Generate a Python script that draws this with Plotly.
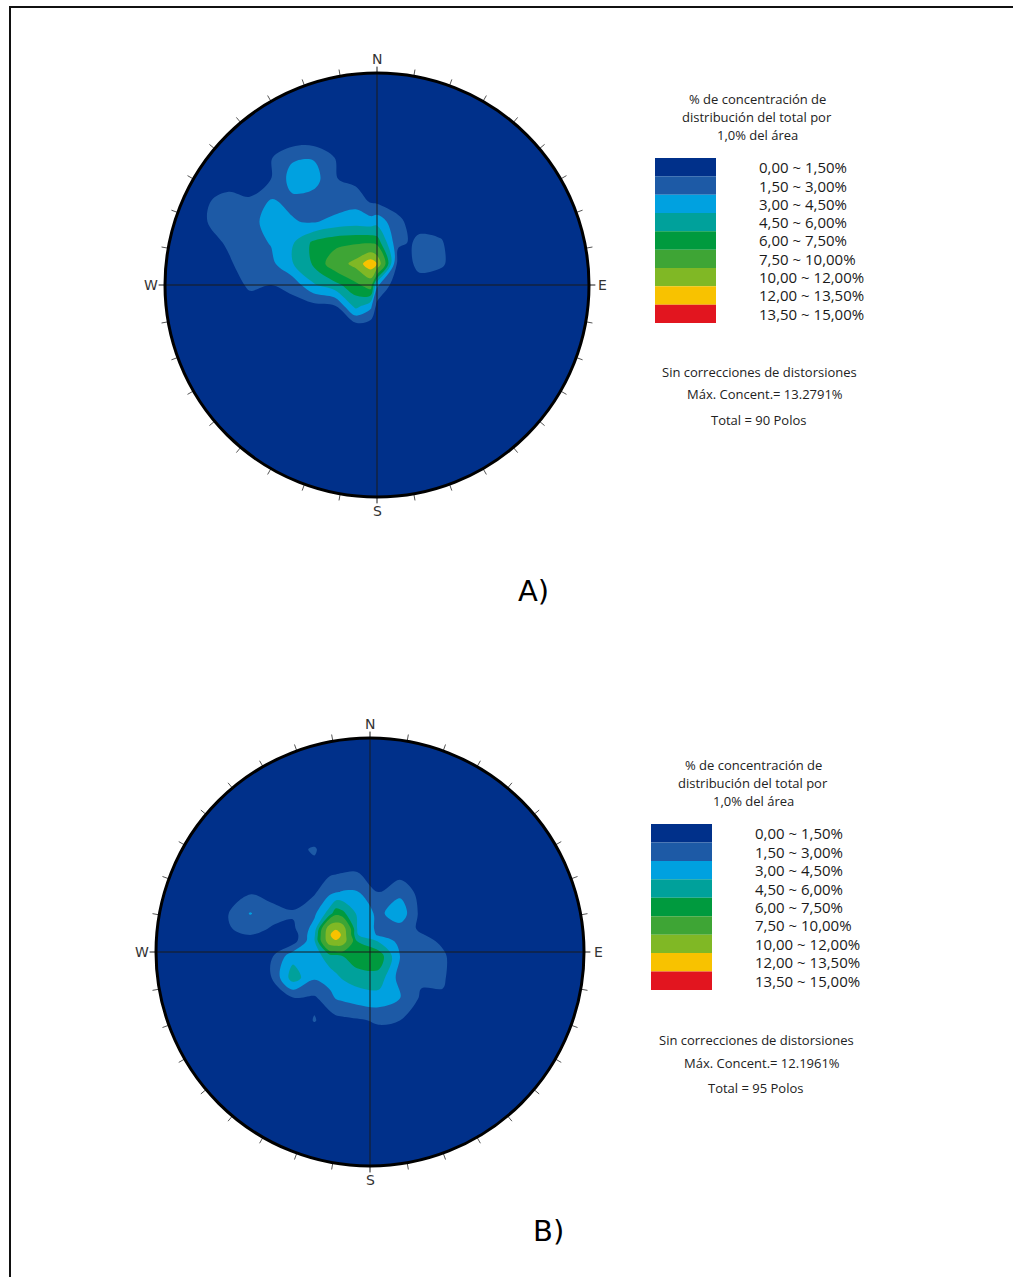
import numpy as np
import plotly.graph_objects as go

W, H = 1013, 1277

# ---------------- shared legend data ----------------
levels = [1.5, 3.0, 4.5, 6.0, 7.5, 10.0, 12.0, 13.5]
band_colors = ['#00308a', '#1d5aa6', '#00a1e0', '#00a19b', '#009a3e',
               '#3ea535', '#80b825', '#f8c200', '#e2151f']
band_labels = ['0,00 ~ 1,50%', '1,50 ~ 3,00%', '3,00 ~ 4,50%', '4,50 ~ 6,00%',
               '6,00 ~ 7,50%', '7,50 ~ 10,00%', '10,00 ~ 12,00%',
               '12,00 ~ 13,50%', '13,50 ~ 15,00%']
legend_title = ['% de concentración de', 'distribución del total por', '1,0% del área']
note_text = 'Sin correcciones de distorsiones'
cardinals = ['N', 'E', 'S', 'W']

# ---------------- panel A: density grid (% per 1% area) ----------------
a_u = [-1.0, -0.9, -0.8, -0.7, -0.6, -0.5, -0.4, -0.3, -0.2, -0.1, -0.03, 0.0, 0.1, 0.16, 0.2, 0.3, 0.4, 0.5]
a_v = [-0.3, -0.2, -0.1, 0.0, 0.1, 0.2, 0.3, 0.4, 0.5, 0.6, 0.7, 0.8]
a_z = [
    [0, 0, 0, 0, 0, 0, 0, 0, 0, 0.1, 0.1, 0.1, 0, 0, 0, 0, 0, 0],
    [0, 0, 0, 0, 0.1, 0.2, 0.2, 0.3, 0.4, 0.5, 0.5, 0.5, 0.2, 0.1, 0, 0, 0, 0],
    [0, 0, 0.1, 0.3, 0.7, 0.6, 0.9, 1.0, 1.3, 5.0, 3.4, 1.0, 0.3, 0.2, 0.1, 0, 0, 0],
    [0, 0.1, 0.2, 0.6, 1.8, 1.5, 2.0, 4.3, 5.5, 7.0, 8.5, 3.3, 0.3, 0.5, 0.8, 0.4, 0.1, 0],
    [0, 0.2, 0.5, 1.3, 2.2, 2.6, 4.4, 6.2, 8.5, 10.8, 13.28, 12.0, 0.8, 1.3, 2.0, 1.8, 0.4, 0],
    [0, 0.3, 1.0, 1.7, 2.4, 3.1, 4.3, 6.3, 7.0, 7.2, 7.3, 6.9, 1.75, 1.4, 1.9, 1.7, 0.2, 0],
    [0, 0.4, 1.5, 2.3, 2.5, 3.6, 3.1, 2.8, 3.5, 3.8, 3.6, 3.9, 1.9, 1.0, 0.9, 0.7, 0.1, 0],
    [0, 0.2, 1.4, 1.9, 1.6, 3.1, 2.7, 2.3, 1.9, 2.4, 1.2, 1.0, 0.6, 0.5, 0.4, 0.2, 0, 0],
    [0, 0, 0.4, 0.9, 1.0, 1.5, 3.6, 3.7, 1.6, 1.0, 0.5, 0.4, 0.1, 0.1, 0, 0, 0, 0],
    [0, 0, 0.1, 0.3, 0.6, 1.4, 2.8, 2.9, 1.5, 0.6, 0.3, 0.2, 0, 0, 0, 0, 0, 0],
    [0, 0, 0, 0, 0, 0.2, 0.3, 0.4, 0.2, 0, 0, 0, 0, 0, 0, 0, 0, 0],
    [0, 0, 0, 0, 0, 0, 0, 0, 0, 0, 0, 0, 0, 0, 0, 0, 0, 0],
]
a_max = '13.2791%'
a_total = 90

# ---------------- panel B: density grid (% per 1% area) ----------------
b_u = [-0.86, -0.76, -0.66, -0.56, -0.46, -0.36, -0.26, -0.19, -0.16, -0.13, -0.06, 0.04, 0.14, 0.24, 0.34, 0.44, 0.54]
b_v = [-0.52, -0.42, -0.32, -0.22, -0.12, -0.02, 0.05, 0.08, 0.11, 0.18, 0.28, 0.38, 0.48, 0.58]
b_z = [
    [0, 0, 0, 0, 0, 0, 0, 0, 0, 0, 0, 0, 0, 0, 0, 0, 0],
    [0, 0, 0, 0, 0, 0, 0.2, 0.2, 0.3, 0.4, 0.5, 0.7, 0.6, 0.2, 0, 0, 0],
    [0, 0, 0, 0, 0.2, 0.3, 1.6, 0.8, 1.0, 1.1, 1.3, 1.7, 1.5, 0.6, 0.3, 0, 0],
    [0, 0, 0, 0.2, 0.6, 1.2, 1.2, 2.3, 3.0, 3.2, 3.6, 3.8, 3.1, 1.2, 1.3, 0.2, 0],
    [0, 0, 0.2, 0.5, 1.5, 5.3, 3.2, 3.8, 4.2, 4.6, 5.2, 5.4, 2.4, 1.8, 1.7, 0.3, 0],
    [0, 0, 0.3, 0.6, 1.3, 4.0, 3.8, 5.2, 5.5, 5.9, 7.0, 7.0, 3.0, 2.0, 1.7, 0.6, 0.2],
    [0, 0.1, 0.6, 0.9, 0.9, 0.8, 4.3, 11.5, 11.95, 11.5, 6.0, 4.4, 2.5, 1.9, 1.3, 0.3, 0],
    [0, 0.2, 1.2, 1.5, 1.1, 0.6, 4.2, 11.95, 12.2, 11.95, 4.6, 2.8, 2.5, 1.6, 1.0, 0.2, 0],
    [0, 0.2, 1.4, 2.0, 1.4, 1.2, 3.6, 11.5, 11.95, 11.5, 4.5, 2.6, 2.4, 1.2, 0.5, 0.1, 0],
    [0, 0.3, 1.5, 3.1, 2.0, 1.7, 2.7, 5.2, 7.0, 6.5, 4.3, 2.6, 4.0, 1.0, 0.3, 0, 0],
    [0, 0, 1.0, 1.3, 1.0, 0.5, 1.3, 2.6, 2.9, 3.1, 3.1, 1.5, 2.6, 0.9, 0.3, 0, 0],
    [0, 0, 0.2, 0.3, 0.3, 0.9, 1.0, 1.1, 1.2, 1.3, 1.4, 0.8, 0.7, 0.3, 0, 0, 0],
    [0, 0, 0, 0, 0.1, 1.0, 1.7, 0.5, 0.4, 0.4, 0.3, 0.1, 0, 0, 0, 0, 0],
    [0, 0, 0, 0, 0, 0, 0, 0, 0, 0, 0, 0, 0, 0, 0, 0, 0],
]
b_max = '12.1961%'
b_total = 95


def pxx(x):
    return x / W


def pyy(y):
    return 1 - y / H


panels = [
    dict(tag='A)', ax='', cx=377, cy=285, r=212, u=a_u, v=a_v, z=a_z, maxv=a_max, total=a_total,
         sw=(655, 716), top=158, bot=323, lx=757, head=(757, [99, 117, 135]),
         notes=([759, 765, 759], [372, 394, 420]), lab=(533, 591)),
    dict(tag='B)', ax='2', cx=370, cy=952, r=214, u=b_u, v=b_v, z=b_z, maxv=b_max, total=b_total,
         sw=(651, 712), top=824, bot=990, lx=753, head=(753, [765, 783, 801]),
         notes=([756, 762, 756], [1040, 1063, 1088]), lab=(548, 1231)),
]

fig = go.Figure()
shapes = []
annotations = []
EXT = 1.25

for p in panels:
    xr = 'x' + p['ax']
    yr = 'y' + p['ax']
    cx, cy, r = p['cx'], p['cy'], p['r']
    fig.layout['xaxis' + p['ax']] = dict(
        domain=[pxx(cx - EXT * r), pxx(cx + EXT * r)], range=[-EXT, EXT],
        visible=False, fixedrange=True, anchor=yr)
    fig.layout['yaxis' + p['ax']] = dict(
        domain=[pyy(cy + EXT * r), pyy(cy - EXT * r)], range=[-EXT, EXT],
        visible=False, fixedrange=True, anchor=xr)

    # background disc (lowest band)
    shapes.append(dict(type='circle', xref=xr, yref=yr, x0=-1, y0=-1, x1=1, y1=1,
                       fillcolor=band_colors[0], line=dict(width=0), layer='below'))

    # filled density bands: constraint '<' keeps z<L clear and shades z>=L
    zmax = float(np.max(p['z']))
    for i, L in enumerate(levels):
        if L >= zmax:
            continue
        fig.add_trace(go.Contour(
            x=p['u'], y=p['v'], z=p['z'], xaxis=xr, yaxis=yr,
            contours=dict(type='constraint', operation='<', value=L),
            fillcolor=band_colors[i + 1], line=dict(width=0, smoothing=1.0),
            showscale=False, hoverinfo='skip', showlegend=False))

    # ticks every 10 degrees
    tx, ty = [], []
    for ang in range(10, 360, 10):
        if ang % 90 == 0:
            continue
        t = np.radians(ang)
        tx += [np.sin(t) * 1.0, np.sin(t) * 1.032, None]
        ty += [np.cos(t) * 1.0, np.cos(t) * 1.032, None]
    fig.add_trace(go.Scatter(x=tx, y=ty, mode='lines', xaxis=xr, yaxis=yr,
                             line=dict(color='#555555', width=1), hoverinfo='skip',
                             showlegend=False))

    # cross lines
    shapes.append(dict(type='line', xref=xr, yref=yr, x0=-1.03, y0=0, x1=1.03, y1=0,
                       line=dict(color='#1a1a1a', width=1), layer='above'))
    shapes.append(dict(type='line', xref=xr, yref=yr, x0=0, y0=-1.03, x1=0, y1=1.03,
                       line=dict(color='#1a1a1a', width=1), layer='above'))
    # outline
    shapes.append(dict(type='circle', xref=xr, yref=yr, x0=-1, y0=-1, x1=1, y1=1,
                       line=dict(color='#000000', width=3), layer='above'))

    # cardinal labels
    for lab, ang in zip(cardinals, [0, 90, 180, 270]):
        t = np.radians(ang)
        annotations.append(dict(x=np.sin(t) * 1.066, y=np.cos(t) * 1.066, xref=xr, yref=yr,
                                text=lab, showarrow=False, xanchor='center', yanchor='middle',
                                font=dict(family='DejaVu Sans', size=14, color='#333333')))

    # legend header
    hx, hys = p['head']
    for txt, yy in zip(legend_title, hys):
        annotations.append(dict(x=pxx(hx), y=pyy(yy), xref='paper', yref='paper', text=txt,
                                showarrow=False, xanchor='center', yanchor='middle',
                                font=dict(family='Open Sans', size=13, color='#222222')))
    # swatches and labels
    n = len(band_colors)
    rh = (p['bot'] - p['top']) / n
    for i in range(n):
        y0 = p['top'] + i * rh
        shapes.append(dict(type='rect', xref='paper', yref='paper',
                           x0=pxx(p['sw'][0]), x1=pxx(p['sw'][1]),
                           y0=pyy(y0 + rh), y1=pyy(y0),
                           fillcolor=band_colors[i], line=dict(width=0), layer='above'))
        annotations.append(dict(x=pxx(p['lx']), y=pyy(y0 + rh / 2), xref='paper', yref='paper',
                                text=band_labels[i], showarrow=False, xanchor='left',
                                yanchor='middle',
                                font=dict(family='Open Sans', size=15, color='#1a1a1a')))
    # notes
    notes = [note_text, 'Máx. Concent.= ' + p['maxv'], 'Total = %d Polos' % p['total']]
    for txt, nx, ny in zip(notes, p['notes'][0], p['notes'][1]):
        annotations.append(dict(x=pxx(nx), y=pyy(ny), xref='paper', yref='paper', text=txt,
                                showarrow=False, xanchor='center', yanchor='middle',
                                font=dict(family='Open Sans', size=13, color='#222222')))
    # panel tag
    annotations.append(dict(x=pxx(p['lab'][0]), y=pyy(p['lab'][1]), xref='paper', yref='paper',
                            text=p['tag'], showarrow=False, xanchor='center', yanchor='middle',
                            font=dict(family='DejaVu Sans', size=29, color='#000000')))

# outer frame (top and left edges)
shapes.append(dict(type='line', xref='paper', yref='paper', x0=pxx(9), x1=1.0,
                   y0=pyy(7), y1=pyy(7), line=dict(color='#111111', width=2), layer='above'))
shapes.append(dict(type='line', xref='paper', yref='paper', x0=pxx(10), x1=pxx(10),
                   y0=pyy(7), y1=0.0, line=dict(color='#111111', width=2), layer='above'))

fig.update_layout(width=W, height=H, margin=dict(l=0, r=0, t=0, b=0),
                  paper_bgcolor='white', plot_bgcolor='white',
                  shapes=shapes, annotations=annotations, showlegend=False)

fig.write_html('out.html', config={'displayModeBar': False},
               post_script="document.body.style.margin='0px';document.body.style.overflow='hidden';")
